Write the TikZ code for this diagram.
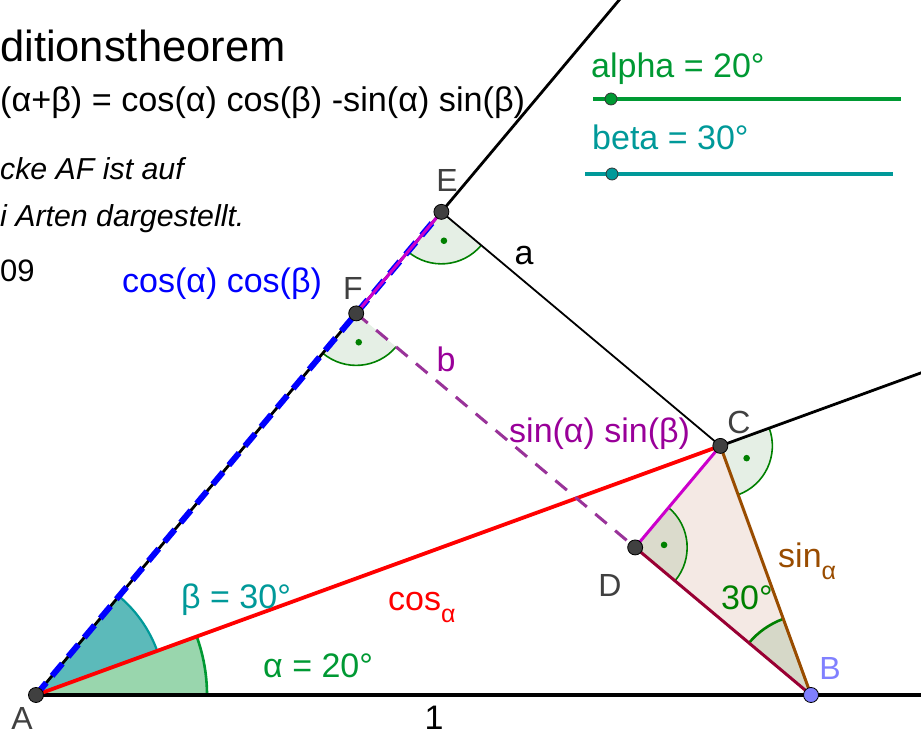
\documentclass[tikz,border=0pt]{standalone}
\usepackage{fontspec}
\setmainfont{Liberation Sans}
\definecolor{alphagreen}{RGB}{0,153,51}
\definecolor{alphafill}{RGB}{153,214,173}
\definecolor{betateal}{RGB}{0,153,153}
\definecolor{betafill}{RGB}{92,186,186}
\definecolor{myblue}{RGB}{0,0,255}
\definecolor{myred}{RGB}{255,0,0}
\definecolor{mymagenta}{RGB}{204,0,204}
\definecolor{mypurple}{RGB}{153,51,153}
\definecolor{labpurple}{RGB}{153,0,153}
\definecolor{mybrown}{RGB}{153,76,0}
\definecolor{mymaroon}{RGB}{153,0,51}
\definecolor{tripink}{RGB}{244,233,228}
\definecolor{ptgray}{RGB}{64,64,64}
\definecolor{lblgray}{RGB}{64,64,64}
\definecolor{bviolet}{RGB}{128,128,255}
\definecolor{angstroke}{RGB}{0,128,0}
\definecolor{angshade}{RGB}{0,100,0}
\newcommand\ortho[2]{%
  \fill[angshade,fill opacity=0.1] (#1) -- ++(#2:52) arc[start angle=#2,delta angle=90,radius=52] -- cycle;
  \draw[angstroke,line width=1.6] (#1) ++(#2:52) arc[start angle=#2,delta angle=90,radius=52];
  \fill[angstroke] (#1) ++(#2+45:29) circle[radius=3.3];}
\begin{document}
\begin{tikzpicture}[x=1pt,y=1pt,
  pt/.style={circle,draw=black,line width=0.8,fill=ptgray,inner sep=0pt,minimum size=15},
  lbl/.style={text=lblgray,font=\fontsize{32}{36}\selectfont},
  txt/.style={font=\fontsize{34}{38}\selectfont,inner sep=0pt},
  itxt/.style={font=\fontsize{30.3}{34}\selectfont\itshape,inner sep=0pt,anchor=base west}]
\clip (0,0) rectangle (921,736);
\useasboundingbox (0,0) rectangle (921,736);
% points
\coordinate (A) at (36,41);
\coordinate (B) at (811,41);
\path (A) ++(20:728.26) coordinate (C);
\path (A) ++(50:630.69) coordinate (E);
\path (A) ++(50:498.16) coordinate (F);
\path (C) ++(230:132.53) coordinate (D);
\path (A) ++(50:950) coordinate (Eext);
\path (C) ++(20:260) coordinate (Cext);
\coordinate (Bext) at (940,41);
% fills
\fill[tripink] (C) -- (D) -- (B) -- cycle;
\fill[alphafill] (A) -- ++(0:171) arc[start angle=0,end angle=20,radius=171] -- cycle;
\draw[alphagreen,line width=2.6] (A) ++(0:171) arc[start angle=0,end angle=20,radius=171];
\fill[betafill] (A) -- ++(20:129) arc[start angle=20,end angle=50,radius=129] -- cycle;
\draw[betateal,line width=2.2] (A) ++(20:129) arc[start angle=20,end angle=50,radius=129];
\fill[angshade,fill opacity=0.12] (B) -- ++(110:81) arc[start angle=110,end angle=140,radius=81] -- cycle;
\draw[angstroke,line width=2.6] (B) ++(110:81) arc[start angle=110,end angle=140,radius=81];
\ortho{E}{230}
\ortho{F}{230}
\ortho{C}{-70}
\ortho{D}{-40}
% lines
\draw[black,line width=3.6] (A) -- (Bext);
\draw[black,line width=2.8] (A) -- (Eext);
\draw[black,line width=2.8] (C) -- (Cext);
\draw[black,line width=1.8] (E) -- (C);
\draw[myred,line width=3.8] (A) -- (C);
\draw[mypurple,line width=3,dash pattern=on 15 off 11] (F) -- (D);
\draw[mymaroon,line width=3] (D) -- (B);
\draw[mybrown,line width=3] (C) -- (B);
\draw[mymagenta,line width=3] (D) -- (C);
\draw[myblue,line width=6,dash pattern=on 16 off 9] (A) -- (E);
\draw[mymagenta,line width=3] (F) -- (E);
% point markers
\node[pt] (pA) at (A) {};
\node[pt] (pC) at (C) {};
\node[pt] (pD) at (D) {};
\node[pt] (pE) at (E) {};
\node[pt] (pF) at (F) {};
\node[pt,fill=bviolet] (pB) at (B) {};
% point labels
\node[lbl] (lA) at (22,18) {A};
\node[lbl,text=bviolet] (lB) at (830,68) {B};
\node[lbl] (lC) at (739,314) {C};
\node[lbl] (lD) at (610,151) {D};
\node[lbl] (lE) at (447,556) {E};
\node[lbl] (lF) at (353,448) {F};
% segment labels
\node[txt] (la) at (524,480) {a};
\node[txt,text=labpurple] (lb) at (446,377) {b};
\node[txt,text=black] (l1) at (434,18) {1};
\node[txt,text=myblue,anchor=base west] (lcc) at (122,443) {cos(α) cos(β)};
\node[txt,text=labpurple,anchor=base west] (lss) at (509,293) {sin(α) sin(β)};
\node[txt,text=myred,anchor=base west] (lcos) at (388,125) {cos\raisebox{-0.35em}{\fontsize{25}{28}\selectfont α}};
\node[txt,text=mybrown,anchor=base west] (lsin) at (778,168) {sin\raisebox{-0.35em}{\fontsize{25}{28}\selectfont α}};
\node[txt,text=angstroke,anchor=base west] (l30) at (721,126) {30°};
\node[txt,text=betateal,anchor=base west] (lbeta) at (181,127) {β = 30°};
\node[txt,text=alphagreen,anchor=base west] (lalpha) at (263,58) {α = 20°};
% sliders
\node[txt,text=alphagreen,anchor=base west] (sa) at (591,658) {alpha = 20°};
\draw[alphagreen,line width=4] (593,637) -- (901,637);
\node[circle,draw=black!80,line width=0.8,fill=alphagreen,inner sep=0pt,minimum size=12] (ka) at (611,637) {};
\node[txt,text=betateal,anchor=base west] (sb) at (592,586) {beta = 30°};
\draw[betateal,line width=4] (585,562) -- (893,562);
\node[circle,draw=black!80,line width=0.8,fill=betateal,inner sep=0pt,minimum size=12] (kb) at (612,562) {};
% texts
\node[font=\fontsize{43.5}{48}\selectfont,inner sep=0pt,anchor=base west] (title) at (0,674) {ditionstheorem};
\node[font=\fontsize{34.2}{40}\selectfont,inner sep=0pt,anchor=base west] (formula) at (0,624) {(α+β) = cos(α) cos(β) -sin(α) sin(β)};
\node[itxt] (t1) at (0,556) {cke AF ist auf};
\node[itxt] (t2) at (0,509) {i Arten dargestellt.};
\node[font=\fontsize{31}{36}\selectfont,inner sep=0pt,anchor=base west] (t3) at (0,454) {09};
\end{tikzpicture}
\end{document}
